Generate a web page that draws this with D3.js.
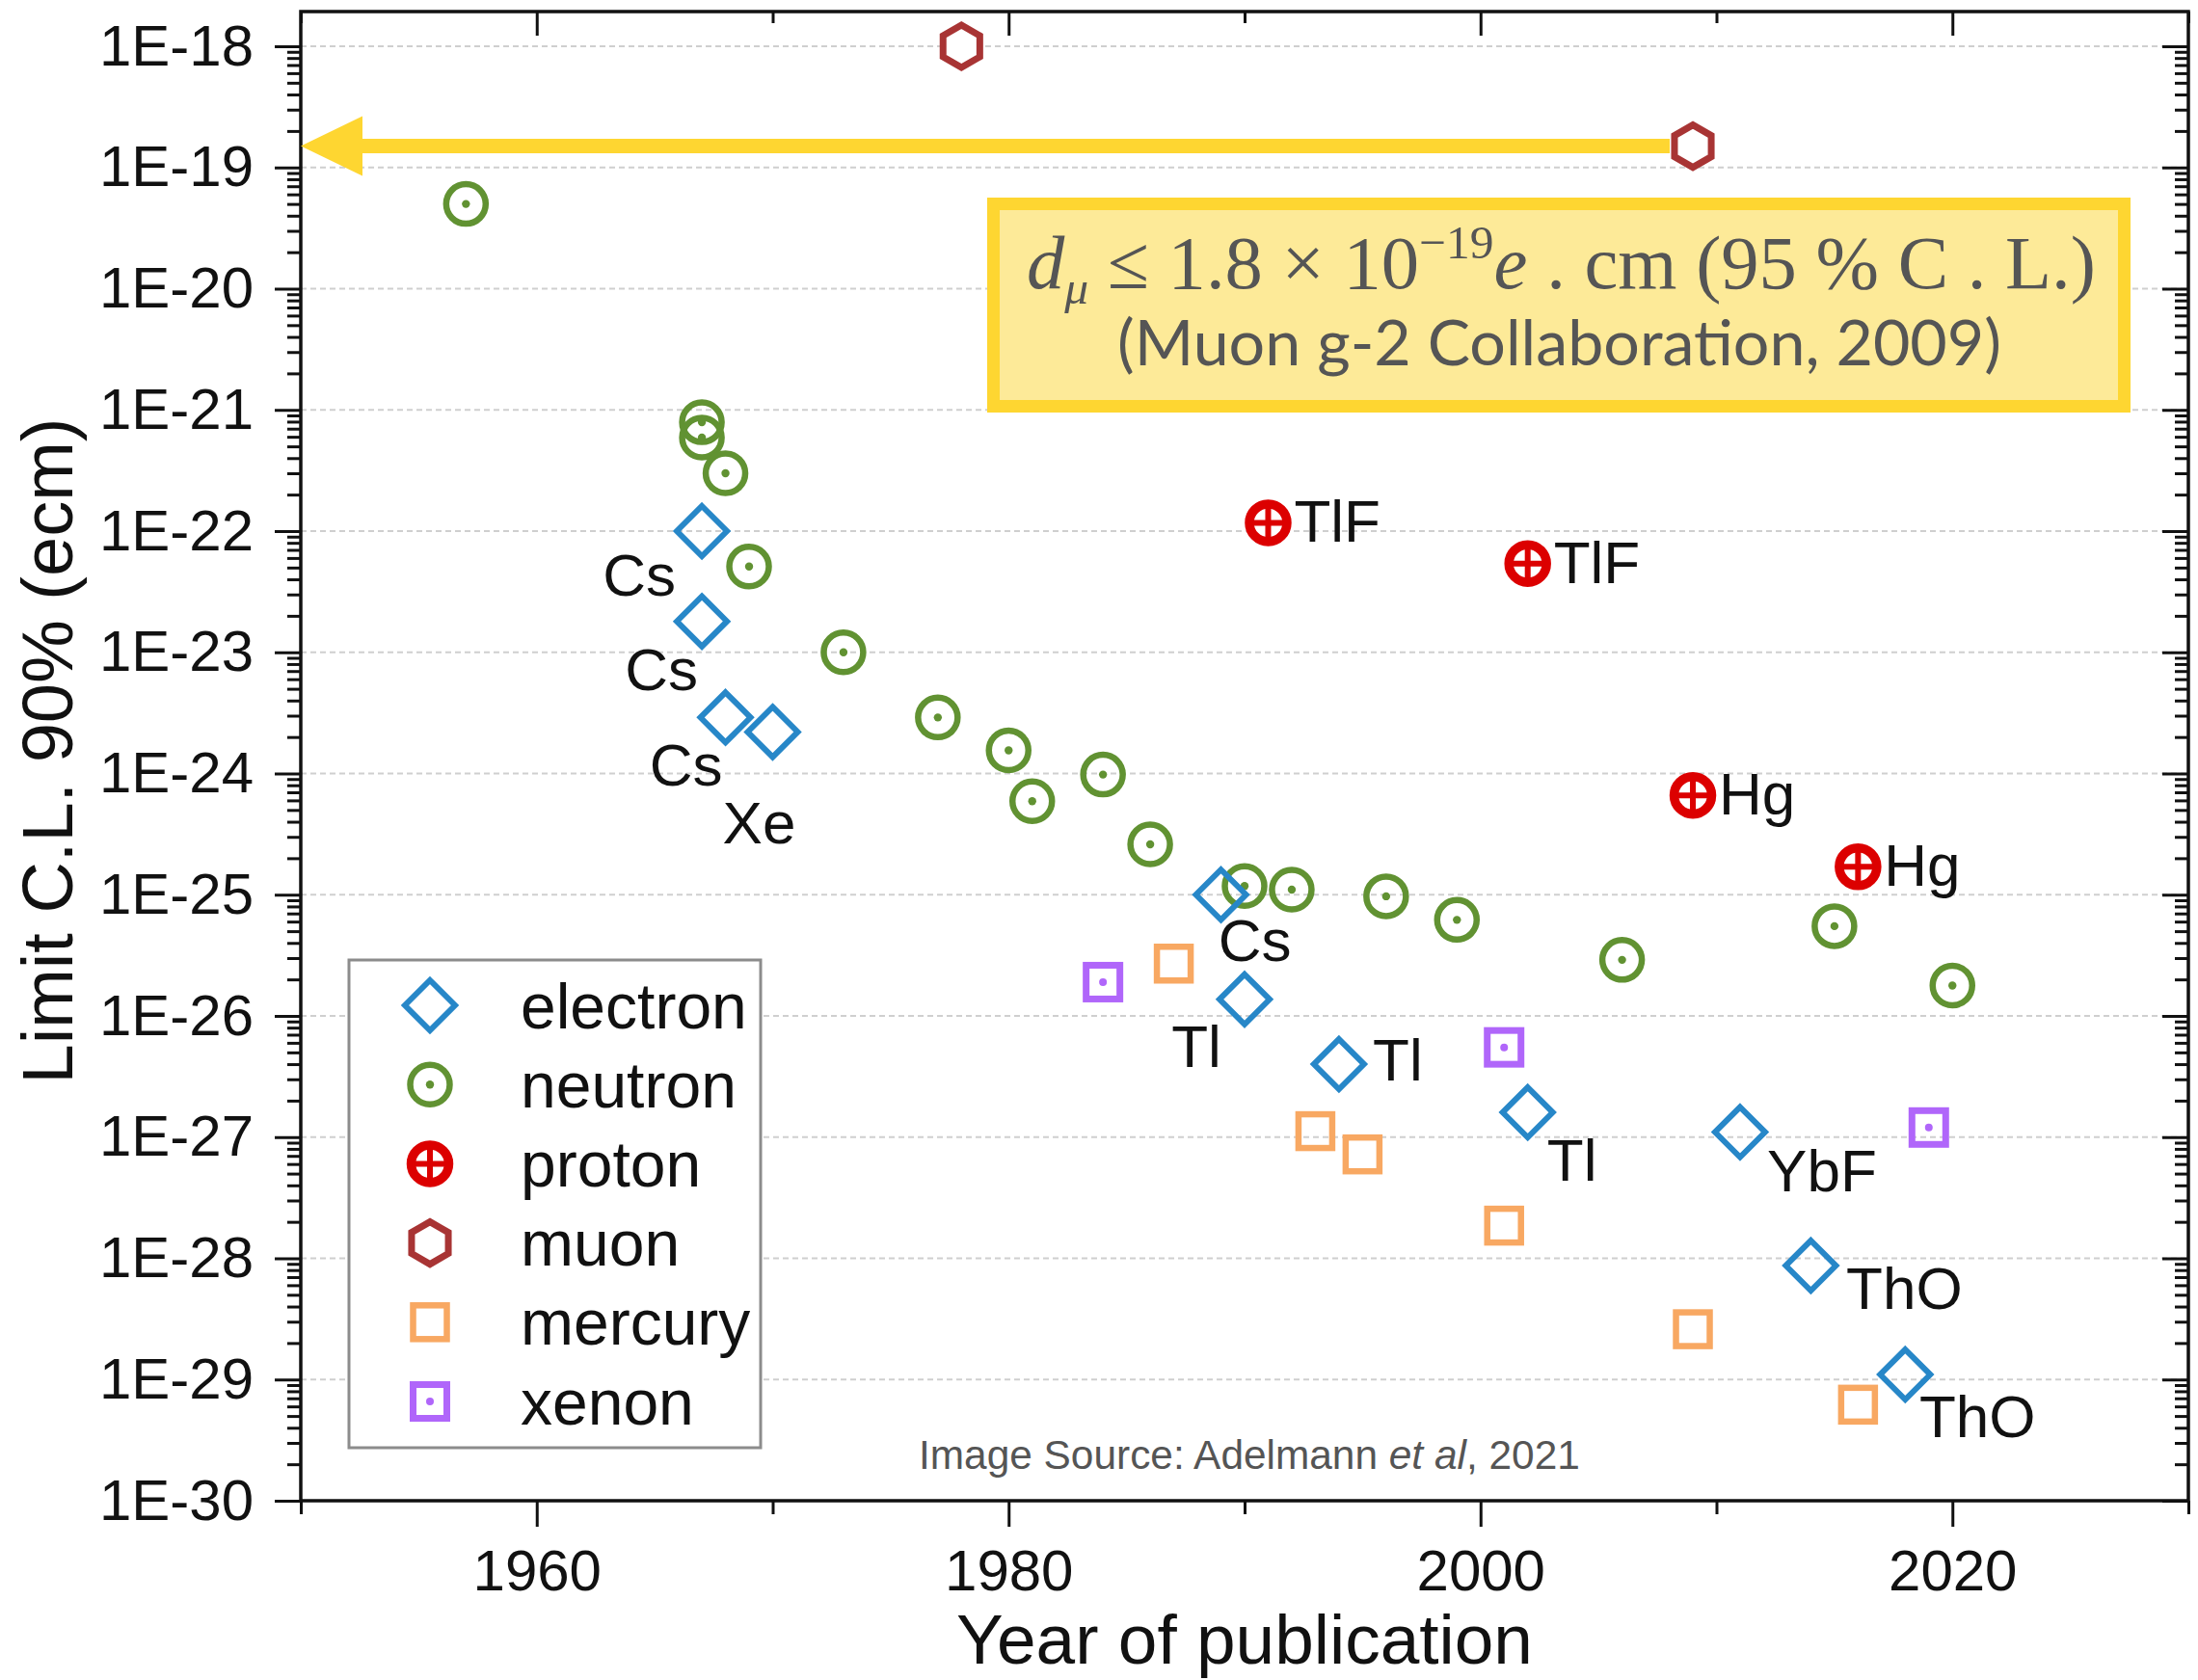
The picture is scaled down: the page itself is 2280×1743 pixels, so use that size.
<!DOCTYPE html>
<html><head><meta charset="utf-8">
<script src="https://d3js.org/d3.v7.min.js"></script>
<style>html,body{margin:0;padding:0;background:#fff;} svg{display:block;}</style>
</head><body>
<svg id="chart" width="2280" height="1743"></svg>
<script>
// ---------------- DATA ----------------
const electronYears  = [1967, 1967, 1968, 1970, 1989, 1990, 1994, 2002, 2011, 2014, 2018];
const electronLimits = [1e-22, 1.8e-23, 2.9e-24, 2.2e-24, 1.0e-25, 1.37e-26, 4.0e-27, 1.6e-27, 1.1e-27, 8.7e-29, 1.1e-29];
const electronLabels = ["Cs", "Cs", "Cs", "Xe", "Cs", "Tl", "Tl", "Tl", "YbF", "ThO", "ThO"];

const neutronYears  = [1957, 1967, 1967, 1968, 1969, 1973, 1977, 1980, 1981, 1984, 1986, 1990, 1992, 1996, 1999, 2006, 2015, 2020];
const neutronLimits = [5e-20, 7.9e-22, 5.9e-22, 3e-22, 5.1e-23, 1e-23, 2.9e-24, 1.55e-24, 5.9e-25, 9.8e-25, 2.6e-25, 1.18e-25, 1.1e-25, 9.7e-26, 6.2e-26, 2.9e-26, 5.5e-26, 1.78e-26];

const protonYears  = [1991, 2002, 2009, 2016];
const protonLimits = [1.17e-22, 5.4e-23, 6.6e-25, 1.7e-25];
const protonLabels = ["TlF", "TlF", "Hg", "Hg"];

const muonYears  = [1978, 2009];
const muonLimits = [1e-18, 1.5e-19];

const mercuryYears  = [1987, 1993, 1995, 2001, 2009, 2016];
const mercuryLimits = [2.7e-26, 1.12e-27, 7.2e-28, 1.86e-28, 2.6e-29, 6.2e-30];

const xenonYears  = [1984, 2001, 2019];
const xenonLimits = [1.9e-26, 5.5e-27, 1.2e-27];

const seriesNames = ["electron", "neutron", "proton", "muon", "mercury", "xenon"];

const yTickValues = [1e-18, 1e-19, 1e-20, 1e-21, 1e-22, 1e-23, 1e-24, 1e-25, 1e-26, 1e-27, 1e-28, 1e-29, 1e-30];
const yTickLabels = ["1E-18", "1E-19", "1E-20", "1E-21", "1E-22", "1E-23", "1E-24", "1E-25", "1E-26", "1E-27", "1E-28", "1E-29", "1E-30"];
const xTickValues = [1960, 1980, 2000, 2020];
const xTickLabels = ["1960", "1980", "2000", "2020"];
const xMinorTickValues = [1950, 1970, 1990, 2010, 2030];

const xTitle = "Year of publication";
const yTitle = "Limit C.L. 90% (ecm)";
const boundYear = 2009, boundValue = 1.5e-19;
const noteLine2 = "(Muon g-2 Collaboration, 2009)";

// ---------------- LAYOUT / STYLE ----------------
const L = 312, R = 2270, T = 12, B = 1557;
const sans = "'Liberation Sans', Arial, Helvetica, sans-serif";
const colors = {electron: "#2787c8", neutron: "#619232", proton: "#dc0000", muon: "#a83434", mercury: "#f8a862", xenon: "#b066fa"};
const yellow = "#fed631";

const svg = d3.select("#chart");
svg.append("rect").attr("width", 2280).attr("height", 1743).attr("fill", "#fff");

const x = d3.scaleLinear().domain([1950, 2030]).range([L, R]);
const y = d3.scaleLog().domain([1e-30, 1e-18]).range([B, 48]);

// minor log ticks
const yMinor = [];
for (let k = -30; k < -18; k++) for (let m = 2; m <= 9; m++) yMinor.push(m * Math.pow(10, k));

// gridlines
svg.append("g").selectAll("line").data(yTickValues.slice(0, -1)).join("line")
  .attr("x1", L).attr("x2", R).attr("y1", d => y(d)).attr("y2", d => y(d))
  .attr("stroke", "#cfcfcf").attr("stroke-width", 2.2).attr("stroke-dasharray", "6,4");

function styleAxis(g) {
  g.select(".domain").remove();
  g.selectAll("line").attr("stroke", "#111").attr("stroke-width", 3);
  g.selectAll("text").attr("font-size", 60).attr("font-family", sans).attr("fill", "#111");
}
// left
svg.append("g").attr("transform", `translate(${L},0)`)
  .call(d3.axisLeft(y).tickValues(yTickValues).tickSize(27).tickPadding(22).tickFormat((d, i) => yTickLabels[i])).call(styleAxis);
svg.append("g").attr("transform", `translate(${L},0)`)
  .call(d3.axisLeft(y).tickValues(yMinor).tickSize(14).tickFormat("")).call(styleAxis);
// right (ticks pointing inward)
svg.append("g").attr("transform", `translate(${R},0)`)
  .call(d3.axisLeft(y).tickValues(yTickValues).tickSize(27).tickFormat("")).call(styleAxis);
svg.append("g").attr("transform", `translate(${R},0)`)
  .call(d3.axisLeft(y).tickValues(yMinor).tickSize(14).tickFormat("")).call(styleAxis);
// bottom
svg.append("g").attr("transform", `translate(0,${B})`)
  .call(d3.axisBottom(x).tickValues(xTickValues).tickSize(27).tickPadding(23).tickFormat((d, i) => xTickLabels[i])).call(styleAxis);
svg.append("g").attr("transform", `translate(0,${B})`)
  .call(d3.axisBottom(x).tickValues(xMinorTickValues).tickSize(14).tickFormat("")).call(styleAxis);
// top (ticks pointing down, inward)
svg.append("g").attr("transform", `translate(0,${T})`)
  .call(d3.axisBottom(x).tickValues(xTickValues).tickSize(25).tickFormat("")).call(styleAxis);
svg.append("g").attr("transform", `translate(0,${T})`)
  .call(d3.axisBottom(x).tickValues(xMinorTickValues).tickSize(12).tickFormat("")).call(styleAxis);

// frame
svg.append("rect").attr("x", L).attr("y", T).attr("width", R - L).attr("height", B - T)
  .attr("fill", "none").attr("stroke", "#111").attr("stroke-width", 3.5);

// axis titles
svg.append("text").attr("x", (L + R) / 2).attr("y", 1726).attr("text-anchor", "middle")
  .attr("font-family", sans).attr("font-size", 73).attr("fill", "#111").text(xTitle);
svg.append("text").attr("transform", "translate(75,779) rotate(-90)").attr("text-anchor", "middle")
  .attr("font-family", sans).attr("font-size", 74).attr("fill", "#111").text(yTitle);

// ---------------- arrow ----------------
const ay = y(boundValue);
svg.append("line").attr("x1", x(boundYear) - 24).attr("x2", L + 60).attr("y1", ay).attr("y2", ay)
  .attr("stroke", yellow).attr("stroke-width", 15);
svg.append("path").attr("d", `M${L},${ay} L${L + 64},${ay - 31} L${L + 64},${ay + 31} Z`).attr("fill", yellow);

// ---------------- annotation box ----------------
svg.append("rect").attr("x", 1030.5).attr("y", 211.5).attr("width", 1173).attr("height", 210)
  .attr("fill", "#fdea98").attr("stroke", yellow).attr("stroke-width", 13);
const eq = svg.append("text").attr("x", 1065).attr("y", 299)
  .attr("font-family", "'Liberation Serif', 'Times New Roman', serif").attr("fill", "#555");
function buildEq(f) {
  eq.selectAll("*").remove();
  eq.attr("font-size", f);
  const s = f * 0.63;
  eq.append("tspan").attr("font-style", "italic").text("d");
  eq.append("tspan").attr("font-style", "italic").attr("font-size", s).attr("dy", 0.2 * f).text("μ");
  eq.append("tspan").attr("dy", -0.2 * f).text(" ≤ 1.8 × 10");
  eq.append("tspan").attr("font-size", s).attr("dy", -0.39 * f).text("−19");
  eq.append("tspan").attr("font-style", "italic").attr("dy", 0.39 * f).text("e");
  eq.append("tspan").text(" . cm (95 % C . L.)");
}
buildEq(80);
buildEq(80 * 1109 / eq.node().getBBox().width);

function fitText(sel, target) {
  const fs = parseFloat(sel.attr("font-size"));
  const w = sel.node().getBBox().width;
  sel.attr("font-size", fs * target / w);
}
const note2 = svg.append("text").attr("x", 1159).attr("y", 379)
  .attr("font-family", "Lato, 'Open Sans', sans-serif").attr("font-size", 64).attr("fill", "#555").text(noteLine2);
fitText(note2, 917);

// source
const src = svg.append("text").attr("x", 953).attr("y", 1524).attr("font-family", sans)
  .attr("font-size", 40).attr("fill", "#555");
src.append("tspan").text("Image Source: Adelmann ");
src.append("tspan").attr("font-style", "italic").text("et al");
src.append("tspan").text(", 2021");
fitText(src, 686);

// ---------------- markers ----------------
function drawMarker(g, type) {
  const c = colors[type];
  if (type === "electron") {
    const r = 26;
    g.append("path").attr("d", `M0,${-r} L${r},0 L0,${r} L${-r},0 Z`)
      .attr("fill", "none").attr("stroke", c).attr("stroke-width", 6);
  } else if (type === "neutron") {
    g.append("circle").attr("r", 20.5).attr("fill", "none").attr("stroke", c).attr("stroke-width", 6.5);
    g.append("circle").attr("r", 4.2).attr("fill", c);
  } else if (type === "proton") {
    g.append("circle").attr("r", 19.5).attr("fill", "#fff").attr("stroke", c).attr("stroke-width", 9.5);
    g.append("path").attr("d", "M-16,0 H16 M0,-16 V16").attr("stroke", c).attr("stroke-width", 6);
  } else if (type === "muon") {
    const r = 22;
    const pts = d3.range(6).map(i => {
      const a = -Math.PI / 2 + i * Math.PI / 3;
      return [r * Math.cos(a), r * Math.sin(a)];
    });
    g.append("path").attr("d", "M" + pts.map(p => p.join(",")).join("L") + "Z")
      .attr("fill", "#fff").attr("stroke", c).attr("stroke-width", 7);
  } else if (type === "mercury") {
    g.append("rect").attr("x", -17.5).attr("y", -17.5).attr("width", 35).attr("height", 35)
      .attr("fill", "none").attr("stroke", c).attr("stroke-width", 6.5);
  } else if (type === "xenon") {
    g.append("rect").attr("x", -17.5).attr("y", -17.5).attr("width", 35).attr("height", 35)
      .attr("fill", "none").attr("stroke", c).attr("stroke-width", 7);
    g.append("circle").attr("r", 4).attr("fill", c);
  }
}

const series = [
  {name: "mercury", years: mercuryYears, limits: mercuryLimits},
  {name: "xenon", years: xenonYears, limits: xenonLimits},
  {name: "neutron", years: neutronYears, limits: neutronLimits},
  {name: "electron", years: electronYears, limits: electronLimits},
  {name: "proton", years: protonYears, limits: protonLimits},
  {name: "muon", years: muonYears, limits: muonLimits}
];
series.forEach(s => {
  const pts = s.years.map((yr, i) => ({year: yr, v: s.limits[i]}));
  svg.append("g").selectAll("g").data(pts).join("g")
    .attr("transform", d => `translate(${x(d.year)},${y(d.v)})`)
    .each(function () { drawMarker(d3.select(this), s.name); });
});

// point labels
const labelFont = 62;
const electronLabelOffsets = [[-65, 45], [-42, 49], [-41, 48], [-14, 93], [35, 47], [-50, 48], [61, -5], [46, 49], [85, 39], [97, 23], [75, 43]];
svg.append("g").selectAll("text").data(electronLabels).join("text")
  .attr("x", (d, i) => x(electronYears[i]) + electronLabelOffsets[i][0])
  .attr("y", (d, i) => y(electronLimits[i]) + electronLabelOffsets[i][1] + labelFont * 0.716 / 2)
  .attr("text-anchor", "middle").attr("font-family", sans).attr("font-size", labelFont).attr("fill", "#111")
  .text(d => d);
svg.append("g").selectAll("text").data(protonLabels).join("text")
  .attr("x", (d, i) => x(protonYears[i]) + 27)
  .attr("y", (d, i) => y(protonLimits[i]) + 20)
  .attr("font-family", sans).attr("font-size", labelFont).attr("fill", "#111")
  .text(d => d);

// ---------------- legend ----------------
const lg = svg.append("g");
lg.append("rect").attr("x", 362).attr("y", 996).attr("width", 427).attr("height", 506)
  .attr("fill", "#fff").attr("stroke", "#8c8c8c").attr("stroke-width", 3);
seriesNames.forEach((n, i) => {
  const cy = 1043 + i * 82.2;
  drawMarker(lg.append("g").attr("transform", `translate(446,${cy})`), n);
  lg.append("text").attr("x", 540).attr("y", cy + 66 * 0.716 / 2)
    .attr("font-family", sans).attr("font-size", 66).attr("fill", "#111").text(n);
});
</script>
</body></html>
